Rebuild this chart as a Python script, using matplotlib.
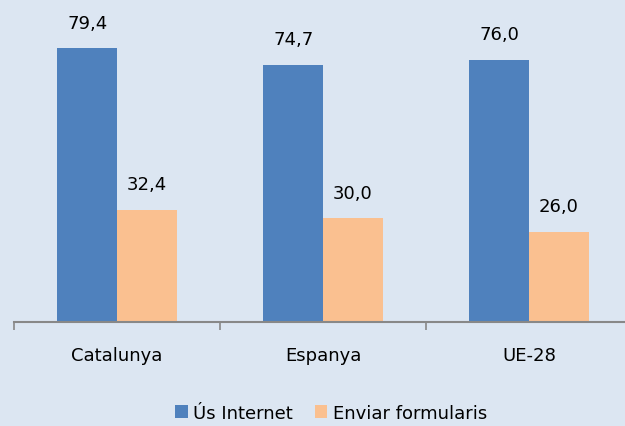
import matplotlib.pyplot as plt
import numpy as np

categories = ["Catalunya", "Espanya", "UE-28"]
us_internet = [79.4, 74.7, 76.0]
enviar_form = [32.4, 30.0, 26.0]
series_names = ["Ús Internet", "Enviar formularis"]

bg = "#dce6f2"
blue = "#4f81bd"
orange = "#fac090"

plt.rcParams['font.family'] = ['DejaVu Sans']

fig = plt.figure(figsize=(6.25, 4.27), dpi=100, facecolor=bg)
ax = fig.add_axes([14 / 625, 104.5 / 427, 618 / 625, 322.5 / 427])
ax.set_facecolor(bg)

x = np.arange(len(categories))
w = 0.29
b1 = ax.bar(x - w / 2, us_internet, w, color=blue, label=series_names[0])
b2 = ax.bar(x + w / 2, enviar_form, w, color=orange, label=series_names[1])

for bars, vals in [(b1, us_internet), (b2, enviar_form)]:
    for r, v in zip(bars, vals):
        ax.annotate(f"{v:.1f}".replace(".", ","),
                    (r.get_x() + r.get_width() / 2, v),
                    xytext=(0, 12), textcoords="offset points",
                    ha="center", va="bottom", fontsize=13, color="black")

ax.set_xlim(-0.5, len(categories) - 0.5)
ax.set_ylim(0, 93.75)
ax.set_xticks(np.arange(len(categories) + 1) - 0.5, minor=False)
ax.set_xticklabels([])
ax.set_xticks(x, minor=True)
ax.set_xticklabels(categories, minor=True, fontsize=13)
ax.tick_params(axis="x", which="major", length=6, width=1.2, color="#888888", direction="out")
ax.tick_params(axis="x", which="minor", length=0, pad=18)
ax.set_yticks([])
for s in ["top", "right", "left"]:
    ax.spines[s].set_visible(False)
ax.spines["bottom"].set_color("#888888")
ax.spines["bottom"].set_linewidth(1.5)

fig.legend(handles=[b1, b2], loc="center", bbox_to_anchor=(0.53, 13 / 427),
           ncol=2, frameon=False, fontsize=13, handlelength=0.7, handleheight=0.7,
           handletextpad=0.3, columnspacing=1.2)

fig.savefig("out.png", dpi=100, facecolor=bg)
